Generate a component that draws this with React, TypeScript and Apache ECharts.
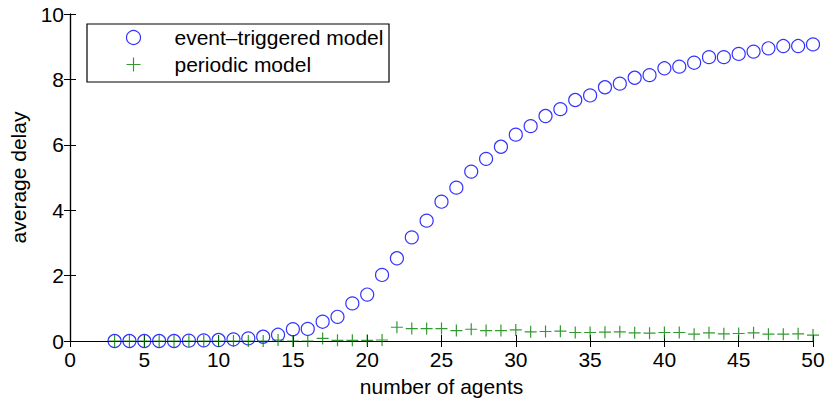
import React, { useEffect, useRef } from "react";
import * as echarts from "echarts";

const agents: number[] = [
  3, 4, 5, 6, 7, 8, 9, 10, 11, 12, 13, 14, 15, 16, 17, 18, 19, 20, 21, 22, 23, 24, 25, 26,
  27, 28, 29, 30, 31, 32, 33, 34, 35, 36, 37, 38, 39, 40, 41, 42, 43, 44, 45, 46, 47, 48, 49, 50,
];
const eventTriggered: number[] = [
  0, 0, 0, 0, 0, 0.01, 0.02, 0.03, 0.05, 0.08, 0.13, 0.19, 0.36, 0.37, 0.59, 0.74, 1.15, 1.42,
  2.02, 2.53, 3.17, 3.68, 4.26, 4.69, 5.18, 5.57, 5.94, 6.31, 6.57, 6.88, 7.09, 7.37, 7.51, 7.76,
  7.87, 8.05, 8.13, 8.34, 8.39, 8.51, 8.68, 8.68, 8.78, 8.85, 8.95, 9.02, 9.02, 9.07,
];
const periodic: number[] = [
  0, 0, 0, 0, 0, 0, 0, 0, 0, 0, 0, 0.03, 0, 0, 0.08, 0.02, 0.02, 0.02, 0.03, 0.42, 0.38, 0.38,
  0.38, 0.32, 0.36, 0.32, 0.32, 0.34, 0.28, 0.29, 0.3, 0.26, 0.26, 0.27, 0.28, 0.25, 0.24, 0.26,
  0.26, 0.21, 0.25, 0.22, 0.23, 0.25, 0.21, 0.21, 0.22, 0.18,
];
const seriesNames: string[] = ["event\u2013triggered model", "periodic model"];
const xTitle = "number of agents";
const yTitle = "average delay";

const FONT = "'Liberation Sans', Arial, Helvetica, sans-serif";
const FS = 21;
const PLUS = "path://M0,-6 L0,6 M-6,0 L6,0";

export default function App() {
  const ref = useRef<HTMLDivElement>(null);
  useEffect(() => {
    if (!ref.current) return;
    const chart = echarts.init(ref.current, undefined, { renderer: "svg" });
    const axisLine = { show: true, lineStyle: { color: "#000", width: 1.2 } };
    const tick = { show: true, inside: true, length: 6, lineStyle: { color: "#000", width: 1 } };
    chart.setOption({
      animation: false,
      backgroundColor: "#fff",
      textStyle: { fontFamily: FONT },
      grid: { left: 68, right: 16, top: 14, bottom: 61 },
      legend: {
        orient: "vertical",
        left: 124,
        top: 27,
        itemWidth: 14,
        itemHeight: 14,
        itemGap: 6,
        padding: 0,
        textStyle: { fontFamily: FONT, fontSize: FS, color: "#000", padding: [0, 0, 0, 29] },
        data: [
          {
            name: seriesNames[0],
            icon: "circle",
            itemStyle: { color: "none", borderColor: "#0000ff", borderWidth: 1.2 },
          },
          {
            name: seriesNames[1],
            icon: PLUS,
            itemStyle: { color: "none", borderColor: "#008000", borderWidth: 1.2 },
          },
        ],
      },
      graphic: [
        {
          type: "rect",
          left: 84.5,
          top: 21.5,
          shape: { width: 302, height: 58 },
          style: { fill: "none", stroke: "#000", lineWidth: 1.2 },
          z: 10,
        },
      ],
      xAxis: [
        {
          type: "value",
          min: 0,
          max: 50,
          interval: 5,
          name: xTitle,
          nameLocation: "middle",
          nameGap: 35,
          nameTextStyle: { fontFamily: FONT, fontSize: FS, color: "#000" },
          axisLine,
          axisTick: tick,
          axisLabel: { fontFamily: FONT, fontSize: FS, color: "#000", margin: 8 },
          splitLine: { show: false },
        },
        {
          type: "value",
          position: "top",
          min: 0,
          max: 50,
          interval: 5,
          axisLine,
          axisTick: tick,
          axisLabel: { show: false },
          splitLine: { show: false },
        },
      ],
      yAxis: [
        {
          type: "value",
          min: 0,
          max: 10,
          interval: 2,
          name: yTitle,
          nameLocation: "middle",
          nameGap: 41,
          nameTextStyle: { fontFamily: FONT, fontSize: FS, color: "#000" },
          axisLine,
          axisTick: tick,
          axisLabel: { fontFamily: FONT, fontSize: FS, color: "#000", margin: 6 },
          splitLine: { show: false },
        },
        {
          type: "value",
          position: "right",
          min: 0,
          max: 10,
          interval: 2,
          axisLine,
          axisTick: tick,
          axisLabel: { show: false },
          splitLine: { show: false },
        },
      ],
      series: [
        {
          name: seriesNames[0],
          type: "scatter",
          symbol: "circle",
          symbolSize: 13,
          clip: false,
          itemStyle: { color: "none", borderColor: "#0000ff", borderWidth: 1.2 },
          data: agents.map((a, i) => [a, eventTriggered[i]]),
        },
        {
          name: seriesNames[1],
          type: "scatter",
          symbol: PLUS,
          symbolSize: 12,
          clip: false,
          itemStyle: { color: "none", borderColor: "#008000", borderWidth: 1.2 },
          data: agents.map((a, i) => [a, periodic[i]]),
        },
      ],
    });
    return () => chart.dispose();
  }, []);
  return (
    <div
      ref={ref}
      style={{ position: "fixed", left: 0, top: 0, width: 829, height: 402, background: "#fff" }}
    />
  );
}
